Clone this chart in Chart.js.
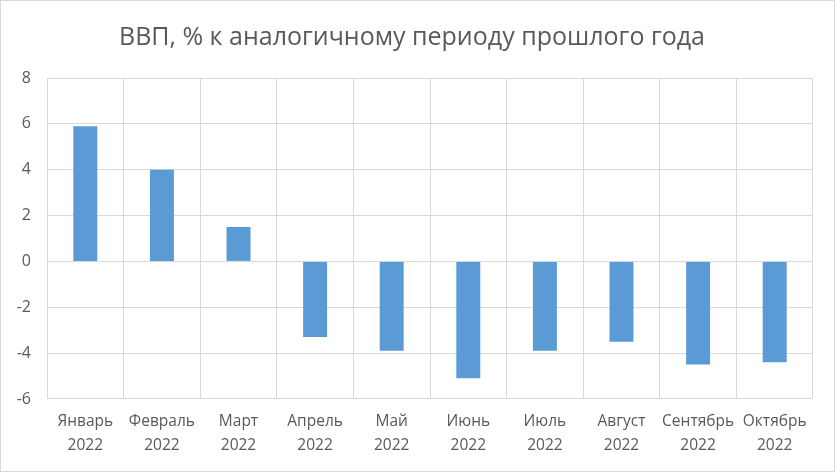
<!DOCTYPE html>
<html>
<head>
<meta charset="utf-8">
<script src="https://cdn.jsdelivr.net/npm/chart.js@4"></script>
<style>
html,body{margin:0;padding:0;background:#fff;}
#wrap{width:833px;height:470px;border:1px solid #d9d9d9;position:relative;}
</style>
</head>
<body>
<div id="wrap"><canvas id="c" width="833" height="470"></canvas></div>
<script>
const months = ['Январь','Февраль','Март','Апрель','Май','Июнь','Июль','Август','Сентябрь','Октябрь'];
const years = ['2022','2022','2022','2022','2022','2022','2022','2022','2022','2022'];
const gdpValues = [5.9, 4.0, 1.5, -3.3, -3.9, -5.1, -3.9, -3.5, -4.5, -4.4];
const yTicks = [-6, -4, -2, 0, 2, 4, 6, 8];
const titleText = 'ВВП, % к аналогичному периоду прошлого года';

const labels = months.map((m, i) => [m, years[i]]);
const FONT = "'Open Sans', sans-serif";

new Chart(document.getElementById('c'), {
  type: 'bar',
  data: {
    labels: labels,
    datasets: [{
      data: gdpValues,
      backgroundColor: '#5b9bd5',
      borderWidth: 0,
      barPercentage: 1,
      categoryPercentage: 0.313
    }]
  },
  options: {
    responsive: false,
    animation: false,
    layout: { padding: { left: 10, right: 21, top: 0, bottom: 2 } },
    plugins: {
      legend: { display: false },
      tooltip: { enabled: false },
      title: {
        display: true,
        text: titleText,
        color: '#595959',
        font: { family: FONT, size: 25, weight: 'normal', lineHeight: 1.2 },
        padding: { top: 22, bottom: 25 }
      }
    },
    scales: {
      x: {
        grid: { color: '#d9d9d9', lineWidth: 1, offset: true, drawTicks: false },
        border: { display: false },
        ticks: {
          color: '#595959',
          font: { family: FONT, size: 15.5, lineHeight: 1.55 },
          padding: 11,
          maxRotation: 0,
          autoSkip: false
        }
      },
      y: {
        min: Math.min(...yTicks),
        max: Math.max(...yTicks),
        afterBuildTicks: (scale) => { scale.ticks = yTicks.map(v => ({ value: v })); },
        afterFit: (scale) => { scale.width = 36; },
        grid: { color: '#d9d9d9', lineWidth: 1, drawTicks: false },
        border: { display: false },
        ticks: {
          color: '#595959',
          font: { family: FONT, size: 16 },
          padding: 16
        }
      }
    }
  }
});
</script>
</body>
</html>
